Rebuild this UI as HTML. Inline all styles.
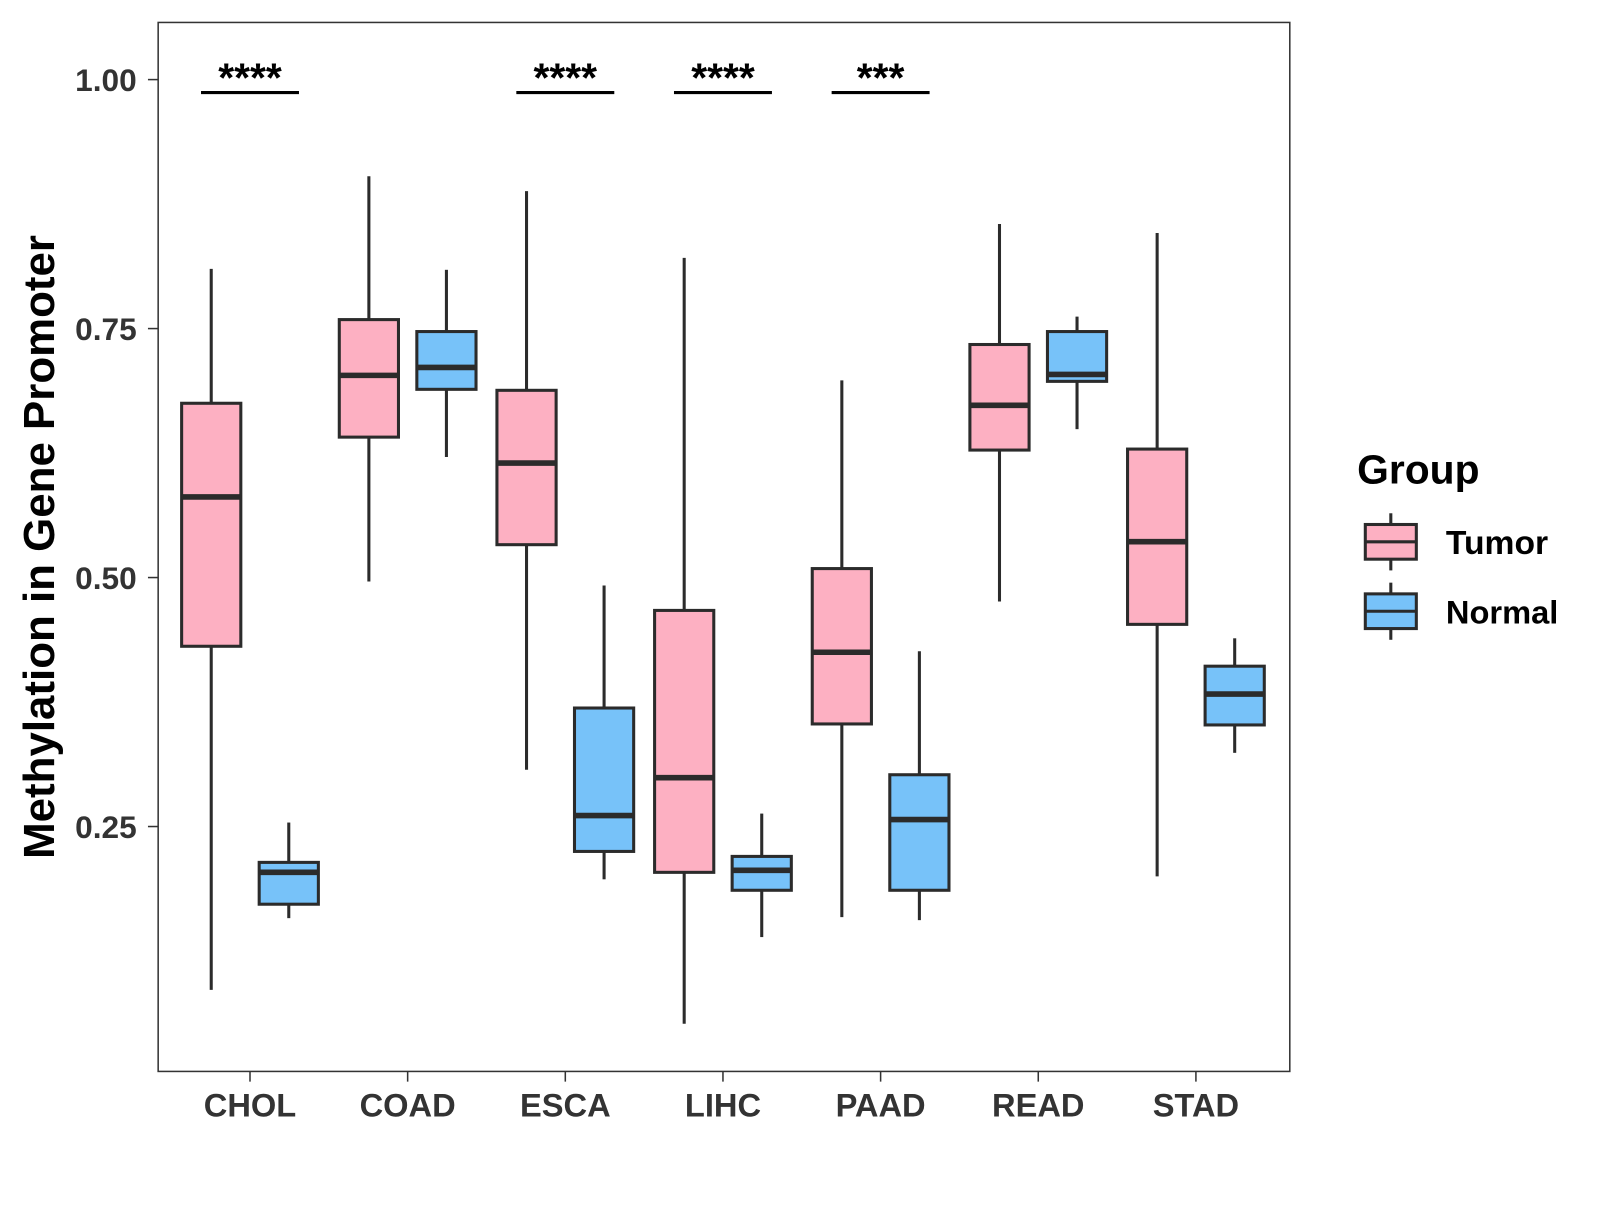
<!DOCTYPE html>
<html><head><meta charset="utf-8"><style>
body{margin:0;background:#fff}
svg text{font-family:"Liberation Sans",Arial,sans-serif;font-weight:bold}
</style></head><body>
<svg id="chart" width="1600" height="1200" viewBox="0 0 1568 1176">
<rect x="155" y="22" width="1109" height="1028" fill="none" stroke="#333" stroke-width="1.5"/>
<g id="marks"></g>
<g id="axes"></g>
<text transform="translate(53,536) rotate(-90)" text-anchor="middle" font-size="43" fill="#000">Methylation in Gene Promoter</text>
<g>
<text x="1330" y="474" font-size="40" fill="#000">Group</text>
<g>
<line x1="1363" y1="503" x2="1363" y2="559" stroke="#2b2b2b" stroke-width="3"/>
<rect x="1338" y="514" width="50" height="34" fill="#FDB0C2" stroke="#2b2b2b" stroke-width="3"/>
<line x1="1338" y1="531" x2="1388" y2="531" stroke="#2b2b2b" stroke-width="3"/>
<text x="1417" y="543" font-size="33" fill="#000">Tumor</text></g>
<g>
<line x1="1363" y1="571" x2="1363" y2="627" stroke="#2b2b2b" stroke-width="3"/>
<rect x="1338" y="582" width="50" height="34" fill="#77C2F9" stroke="#2b2b2b" stroke-width="3"/>
<line x1="1338" y1="599" x2="1388" y2="599" stroke="#2b2b2b" stroke-width="3"/>
<text x="1417" y="611" font-size="32" fill="#000">Normal</text></g>
</g>
</svg>
<script>
const categories=["CHOL","COAD","ESCA","LIHC","PAAD","READ","STAD"];
const tumorStats=[[0.086,0.431,0.581,0.675,0.810],[0.496,0.641,0.703,0.759,0.903],[0.307,0.533,0.615,0.688,0.888],[0.052,0.204,0.299,0.467,0.821],[0.159,0.353,0.425,0.509,0.698],[0.476,0.628,0.673,0.734,0.855],[0.200,0.453,0.536,0.629,0.846]];
const normalStats=[[0.158,0.172,0.204,0.214,0.254],[0.621,0.689,0.711,0.747,0.809],[0.197,0.225,0.261,0.369,0.492],[0.139,0.186,0.206,0.220,0.263],[0.156,0.186,0.257,0.302,0.426],[0.649,0.697,0.704,0.747,0.762],[0.324,0.352,0.383,0.411,0.439]];
const yTicks=[0.25,0.5,0.75,1.0];
const yTickLabels=["0.25","0.50","0.75","1.00"];
const sigLabels=["****","","****","****","***","",""];
const sigY=0.987;
const NS="http://www.w3.org/2000/svg";
function yS(v){return 1054-v*976;}
function xS(i){return 245+i*154.5;}
function mk(tag,attrs,parent){const e=document.createElementNS(NS,tag);for(const k in attrs)e.setAttribute(k,attrs[k]);parent.appendChild(e);return e;}
const marks=document.getElementById('marks'),axes=document.getElementById('axes');
const hw=29,off=38;
function box(stats,cx,fill,name){
  const g=mk('g',{},marks);
  
  
  const [mn,q1,md,q3,mx]=stats;
  mk('line',{x1:cx,x2:cx,y1:yS(mx),y2:yS(q3),stroke:'#2b2b2b','stroke-width':3},g);
  mk('line',{x1:cx,x2:cx,y1:yS(q1),y2:yS(mn),stroke:'#2b2b2b','stroke-width':3},g);
  mk('rect',{x:cx-hw,y:yS(q3),width:2*hw,height:yS(q1)-yS(q3),fill:fill,stroke:'#2b2b2b','stroke-width':3},g);
  mk('line',{x1:cx-hw,x2:cx+hw,y1:yS(md),y2:yS(md),stroke:'#2b2b2b','stroke-width':5.5},g);
}
categories.forEach((c,i)=>{
  box(tumorStats[i],xS(i)-off,'#FDB0C2','box-tumor-'+c.toLowerCase());
  box(normalStats[i],xS(i)+off,'#77C2F9','box-normal-'+c.toLowerCase());
  const t=mk('line',{x1:xS(i),x2:xS(i),y1:1050,y2:1060,stroke:'#333','stroke-width':1.5},axes);
  
  
  const l=mk('text',{x:xS(i),y:1094,'text-anchor':'middle','font-size':32,fill:'#333'},axes);
  l.textContent=c;
  
  
  if(sigLabels[i]){
    const s=mk('line',{x1:xS(i)-off-10,x2:xS(i)+off+10,y1:yS(sigY),y2:yS(sigY),stroke:'#000','stroke-width':3},marks);
    
    
    const st=mk('text',{x:xS(i),y:yS(sigY)-1,'text-anchor':'middle','font-size':40,fill:'#000'},marks);
    st.textContent=sigLabels[i];
    
    
  }
});
yTicks.forEach((v,i)=>{
  const t=mk('line',{x1:145,x2:155,y1:yS(v),y2:yS(v),stroke:'#333','stroke-width':1.5},axes);
  
  
  const l=mk('text',{x:134,y:yS(v)+11,'text-anchor':'end','font-size':31,fill:'#333'},axes);
  l.textContent=yTickLabels[i];
  
  
});
</script>
</body></html>
